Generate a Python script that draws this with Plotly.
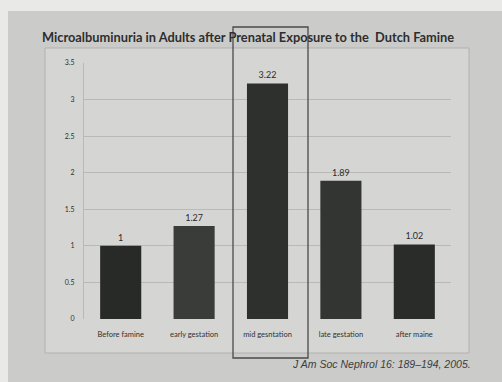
import plotly.graph_objects as go

categories = ["Before famine", "early gestation", "mid gesntation", "late gestation", "after maine"]
values = [1, 1.27, 3.22, 1.89, 1.02]
value_labels = ["1", "1.27", "3.22", "1.89", "1.02"]
bar_colors = ["#282a28", "#3a3c3a", "#2e302e", "#333533", "#2a2c2a"]
y_ticks = [0, 0.5, 1, 1.5, 2, 2.5, 3, 3.5]
y_tick_text = ["0", "0.5", "1", "1.5", "2", "2.5", "3", "3.5"]

W, H = 502, 382
fig = go.Figure()
fig.add_trace(go.Bar(
    x=categories, y=values,
    marker=dict(color=bar_colors, line=dict(width=0)),
    text=value_labels, textposition="outside",
    textfont=dict(family="Lato", size=9, color="#2a2a2a"),
    cliponaxis=False,
))

def px(x0, y0, x1, y1, **kw):
    fig.add_shape(type="rect", xref="paper", yref="paper",
                  x0=(x0 - 84) / (451 - 84), x1=(x1 - 84) / (451 - 84),
                  y0=(319 - y0) / (319 - 63), y1=(319 - y1) / (319 - 63), **kw)

# slide backdrop and chart frame
px(8, 11, 502, 382, fillcolor="#cbccca", line=dict(width=0), layer="below")
px(45, 48, 469, 353, fillcolor="#d5d6d4", line=dict(color="#b0b1af", width=1), layer="below")
# highlight box around the mid-gestation bar
px(233, 27, 308, 358, fillcolor="rgba(0,0,0,0)", line=dict(color="#4a4a4a", width=1.3), layer="above")

fig.add_annotation(text="<b>Microalbuminuria in Adults after Prenatal Exposure to the  Dutch Famine</b>",
                   xref="paper", yref="paper", x=(248 - 84) / 367, y=(319 - 37) / 256,
                   yanchor="middle", showarrow=False,
                   font=dict(family="Lato", size=12.8, color="#2e2e2e"))
fig.add_annotation(text="<i>J Am Soc Nephrol 16: 189–194, 2005.</i>",
                   xref="paper", yref="paper", x=(473 - 84) / 367, y=(319 - 364) / 256,
                   xanchor="right", yanchor="middle", showarrow=False,
                   font=dict(family="Liberation Sans", size=10.5, color="#3c3c3c"))

fig.update_layout(
    width=W, height=H,
    margin=dict(l=84, r=51, t=63, b=63),
    paper_bgcolor="#e9e9e8",
    plot_bgcolor="rgba(0,0,0,0)",
    bargap=0.44,
    showlegend=False,
    xaxis=dict(showgrid=False, zeroline=False, showline=False, ticks="",
               ticklabelstandoff=9,
               tickfont=dict(family="Lato", size=7.5, color="#303030")),
    yaxis=dict(range=[0, 3.5], tickvals=y_ticks, ticktext=y_tick_text,
               showgrid=True, gridcolor="#b9bab8", gridwidth=1,
               zeroline=False, showline=True, linecolor="#b9bab8",
               ticks="", ticklabelstandoff=7,
               tickfont=dict(family="Lato", size=7, color="#303030")),
)
fig.write_html("out.html")
